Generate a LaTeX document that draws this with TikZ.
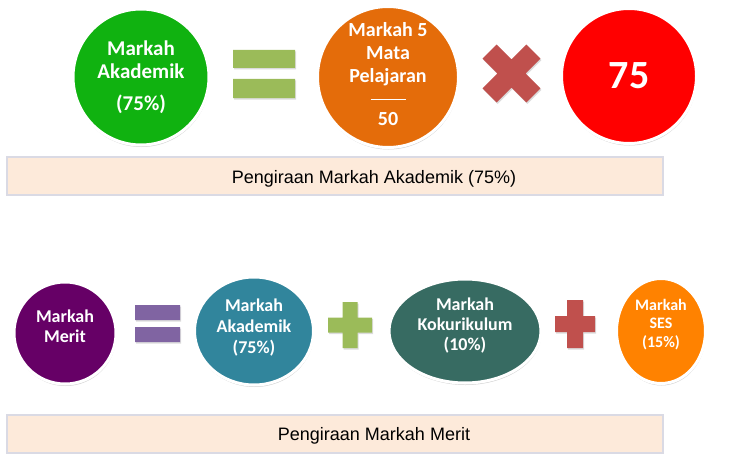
\documentclass[tikz,border=0pt]{standalone}
\usepackage{xcolor}
\usepackage{tikz}
\usepackage{fontspec}
\usetikzlibrary{shapes.geometric,shadows}
\setmainfont{Liberation Sans}
\newfontfamily\calibri{Carlito}
\definecolor{akadgreen}{RGB}{16, 178, 16}
\definecolor{mataorange}{RGB}{228, 108, 10}
\definecolor{hasilred}{RGB}{255, 0, 0}
\definecolor{meritpurple}{RGB}{102, 0, 102}
\definecolor{akadteal}{RGB}{49, 133, 156}
\definecolor{kokugreen}{RGB}{55, 107, 98}
\definecolor{sesorange}{RGB}{255, 130, 0}
\definecolor{opgreen}{RGB}{155, 187, 89}
\definecolor{opred}{RGB}{192, 80, 77}
\definecolor{oppurple}{RGB}{128, 100, 162}
\definecolor{capfill}{RGB}{253, 234, 218}
\definecolor{capline}{RGB}{218, 218, 228}

\begin{document}
\begin{tikzpicture}[x=1pt, y=1pt, node distance=123pt,
    bubble/.style 2 args={circle, draw=white, line width=3pt, text=white, align=center, inner sep=0pt,
        font=\calibri\bfseries\fontsize{#1}{#2}\selectfont,
        drop shadow={shadow xshift=0.5pt, shadow yshift=-2pt, opacity=0.25, fill=black!70}},
    opshadow/.style={drop shadow={shadow xshift=1pt, shadow yshift=-1.5pt, opacity=0.2, fill=black!70}},
    capbox/.style={draw=capline, fill=capfill, line width=1.2pt, minimum width=656pt, minimum height=38pt, inner sep=0pt},
    captext/.style={font=\fontsize{18}{20}\selectfont, inner sep=0pt}]
    \useasboundingbox (0,0) rectangle (733,467);

    \node (akad) [bubble={21}{23}, fill=akadgreen, minimum size=136pt] at (141,390) {Markah\\Akademik\\[9pt](75\%)};
    \node (mata) [bubble={20}{23}, fill=mataorange, minimum size=141pt, text depth=6pt, right of=akad, node distance=247pt] {Markah 5\\Mata\\Pelajaran\\\rule[6pt]{35pt}{0.6pt}\\[-3pt]50};
    \node (hasil) [bubble={40}{42}, fill=hasilred, minimum size=135pt, right of=mata, node distance=241pt, yshift=1pt] {75};
    \node (eq1) [right of=akad, yshift=3pt] {};
    \node (times) [right of=mata, node distance=123.5pt, yshift=3.5pt] {};

    \fill[opgreen, opshadow, shift={(eq1)}] (-31,6) rectangle (31,24) (-31,-5) rectangle (31,-24);
    \fill[opred, opshadow, shift={(times)}, rotate=45] (-31,-10) rectangle (31,10) (-10,-31) rectangle (10,31);

    \node (capA) [capbox] at (335,291) {};
    \node (capAtext) [captext] at ([xshift=39pt, yshift=-3pt]capA.center) {Pengiraan Markah Akademik (75\%)};

    \node (merit) [bubble={18}{20}, fill=meritpurple, minimum size=102pt, text depth=14pt] at (65,134) {Markah\\Merit};
    \node (akad2) [bubble={18}{21}, ellipse, fill=akadteal, minimum width=119pt, minimum height=108pt, text depth=9pt, right of=merit, node distance=189pt, yshift=2pt] {Markah\\Akademik\\(75\%)};
    \node (koku) [bubble={18}{20}, ellipse, fill=kokugreen, minimum width=152pt, minimum height=104pt, text depth=14pt, right of=akad2, node distance=211pt] {Markah\\Kokurikulum\\(10\%)};
    \node (ses) [bubble={16}{18.5}, ellipse, fill=sesorange, minimum width=89pt, minimum height=105pt, text depth=16pt, right of=koku, node distance=196pt] {Markah\\SES\\(15\%)};
    \node (eq2) [right of=merit, node distance=92.5pt, yshift=9.5pt] {};
    \node (plus1) [right of=akad2, node distance=96pt, yshift=6pt] {};
    \node (plus2) [right of=koku, node distance=110pt, yshift=7pt] {};

    \fill[oppurple, opshadow, shift={(eq2)}] (-22.5,3.5) rectangle (22.5,18.5) (-22.5,-3.5) rectangle (22.5,-18.5);
    \fill[opgreen, opshadow, shift={(plus1)}] (-22,-7.5) rectangle (22,7.5) (-7.5,-23) rectangle (7.5,23);
    \fill[opred, opshadow, shift={(plus2)}] (-20,-8) rectangle (20,8) (-8,-24) rectangle (8,24);

    \node (capB) [capbox] at (335,33) {};
    \node (capBtext) [captext] at ([xshift=39pt, yshift=-2pt]capB.center) {Pengiraan Markah Merit};
\end{tikzpicture}
\end{document}
